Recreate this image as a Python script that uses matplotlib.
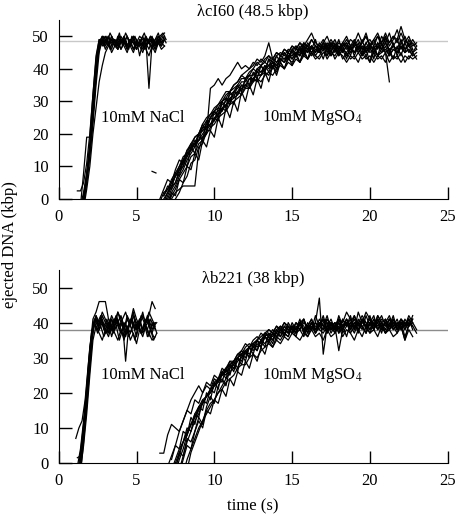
import numpy as np
import matplotlib
matplotlib.use("Agg")
import matplotlib.pyplot as plt

nan = np.nan

# sampling step of the recorded traces (s)
NACL_DT = 0.2
MG_DT = 0.25

# ---- lambda cI60 (48.5 kbp), 10mM NaCl ----
CI60_NACL_START = [1.4, 1.2, 1.4, 1.6, 1.6, 1.5, 1.6, 1.4, 1.5, 1.6]
CI60_NACL = [
    [-4, 1, 7, 15, 26, 38, 47, 49, 48, 50, 47, 49, 46, 48, 50, 47, 49, 48, 46, 49, 47, 50, 48, 49, 47, 50, 48, 49],
    [2.5, 2.5, 5, 11, 20, 32, 44, 49, 47, 49, 48, 46, 49, 47, 50, 48, 46, 48, 50, 47, 48, 46, 49, 48, 50, 47, 49, 48, 50],
    [-2, 8, 19, 19, 32, 43, 49, 48, 50, 48, 49, 47, 50, 48, 49, 46, 48, 50, 49, 47, 48, 50, 48, 47, 49, 51, 48],
    [-3, 3, 10, 20, 28, 36, 41, 45, 47, 49, 47, 48, 46, 48, 47, 49, 46, 48, 47, 45, 48, 46, 49, 47, 48, 47, 49],
    [0, 7, 16, 27, 39, 47, 49, 47, 50, 48, 49, 47, 48, 50, 47, 49, 48, 46, 48, 47, 49, 34, 48, 46, 49, 47, 49],
    [-3, 3, 10, 19, 31, 43, 48, 50, 48, 51, 49, 47, 50, 48, 51, 49, 48, 50, 47, 49, 51, 48, 50, 49, 47, 50, 51, 49],
    [-1, 5, 13, 23, 35, 45, 49, 46, 48, 45, 47, 46, 49, 47, 45, 48, 46, 49, 44, 48, 46, 44, 47, 45, 48, 46, 47],
    [-2, 2, 8, 17, 28, 40, 48, 50, 49, 47, 50, 48, 46, 49, 48, 50, 47, 49, 46, 48, 50, 47, 49, 48, 46, 48, 50, 51],
    [-2, 4, 11, 21, 33, 45, 49, 47, 50, 46, 49, 48, 51, 47, 49, 46, 50, 48, 47, 49, 46, 48, 50, 47, 49, 48, 50, 48],
    [-2, 5, 14, 25, 38, 48, 50, 48, 47, 50, 48, 49, 46, 48, 50, 47, 45, 48, 50, 49, 47, 48, 46, 49, 50, 48, 47],
]

# ---- lambda cI60 (48.5 kbp), 10mM MgSO4 ----
CI60_MG_START = [6.75, 6.5, 7.0, 7.0, 7.25, 6.0, 7.25, 6.75, 6.75, 7.0, 6.75, 7.0, 6.5]
CI60_MG = [
    [-2, 1, 4, 5, 9, 10, 14, 15, 18, 18, 22, 22, 25, 24, 28, 27, 31, 30, 33, 32, 35, 34, 37, 36, 39, 38, 41, 39, 42, 40, 43, 42, 45, 43, 45, 44, 47, 45, 47, 45, 48, 46, 47, 44, 46, 45, 48, 46, 47, 44, 47, 45, 48, 46, 47, 44, 46, 48, 45, 47, 46, 49, 46, 48, 45, 47],
    [-1, 2, 3, 6, 8, 10, 13, 14, 17, 19, 20, 23, 25, 26, 28, 29, 31, 33, 33, 35, 36, 38, 37, 39, 40, 42, 41, 43, 44, 42, 44, 45, 44, 46, 45, 47, 46, 48, 47, 49, 47, 46, 48, 47, 49, 47, 46, 48, 47, 49, 48, 46, 48, 50, 47, 48, 50, 47, 49, 48, 50, 48, 51, 48, 50, 47, 48],
    [-2, 1, 3, 6, 8, 10, 13, 14, 17, 18, 20, 22, 23, 25, 26, 27, 29, 30, 31, 32, 34, 34, 36, 37, 36, 38, 39, 38, 40, 41, 40, 42, 41, 43, 42, 44, 43, 45, 44, 43, 45, 44, 46, 43, 45, 44, 42, 44, 43, 45, 43, 44, 42, 45, 43, 44, 42, 45, 43, 44, 42, 44, 43, 45, 43],
    [0, 3, 5, 8, 10, 13, 15, 17, 18, 19, 20, 34, 35, 37, 35, 37, 38, 40, 42, 40, 41, 40, 42, 41, 43, 42, 44, 43, 45, 44, 46, 45, 47, 46, 48, 46, 47, 45, 47, 46, 48, 45, 47, 46, 44, 46, 45, 47, 45, 46, 44, 47, 45, 46, 44, 45, 47, 44, 46, 45, 47, 45, 46, 44, 45],
    [0, 2, 3, 4, 4, 4, 4, 15, 19, 21, 23, 25, 26, 28, 29, 31, 32, 33, 35, 35, 37, 37, 39, 39, 40, 41, 42, 41, 43, 42, 44, 44, 45, 44, 46, 45, 47, 46, 45, 47, 46, 48, 46, 47, 45, 47, 46, 48, 46, 47, 45, 47, 46, 48, 46, 45, 36],
    [8.5, 8, nan, 1, 3, 5, 7, 9, 12, 13, 16, 17, 20, 21, 23, 25, 27, 28, 30, 31, 33, 34, 35, 37, 37, 38, 40, 39, 41, 42, 41, 43, 42, 44, 43, 45, 44, 46, 45, 47, 46, 45, 47, 46, 48, 46, 47, 45, 47, 46, 48, 45, 47, 49, 46, 48, 49, 47, 50, 48, 51, 48, 50, 49, 53, 49, 47, 48, 46],
    [-3, 0, 2, 5, 7, 11, 12, 16, 17, 21, 21, 25, 24, 28, 27, 31, 29, 33, 32, 35, 34, 37, 36, 38, 39, 38, 41, 39, 42, 40, 43, 42, 44, 42, 45, 43, 45, 43, 44, 46, 43, 45, 44, 46, 43, 45, 43, 44, 42, 45, 43, 44, 42, 44, 43, 45, 42, 44, 43, 45, 42, 44, 43, 44],
    [-1, 2, 5, 7, 10, 12, 15, 16, 19, 20, 22, 24, 26, 27, 29, 30, 32, 33, 35, 36, 38, 39, 40, 41, 43, 42, 44, 48, 43, 45, 44, 46, 45, 47, 46, 48, 47, 49, 51, 48, 47, 49, 47, 48, 46, 48, 47, 49, 47, 48, 51, 48, 50, 47, 49, 51, 48, 50, 47, 49, 52, 48, 50, 47, 49, 47],
    [0, 2, 4, 7, 9, 11, 14, 15, 17, 20, 21, 22, 25, 26, 27, 29, 30, 32, 33, 34, 36, 36, 38, 38, 40, 39, 41, 40, 42, 41, 43, 43, 44, 45, 44, 46, 45, 46, 44, 46, 45, 47, 46, 44, 46, 45, 47, 44, 46, 45, 47, 46, 44, 46, 45, 47, 45, 46, 44, 46, 45, 47, 45, 46, 44],
    [-1, 2, 4, 7, 9, 12, 14, 16, 18, 20, 22, 23, 24, 26, 27, 29, 30, 31, 32, 34, 35, 35, 37, 38, 38, 40, 41, 40, 42, 43, 42, 44, 43, 45, 46, 44, 46, 47, 45, 47, 46, 48, 46, 47, 45, 47, 48, 46, 47, 45, 47, 46, 48, 45, 47, 46, 48, 46, 47, 45, 48, 46, 47, 45, 46],
    [1, 4, 3, 8, 7, 12, 10, 16, 14, 20, 18, 24, 22, 27, 25, 30, 28, 33, 31, 35, 33, 37, 35, 39, 37, 41, 39, 43, 40, 44, 42, 45, 43, 46, 44, 47, 45, 48, 46, 49, 45, 47, 44, 48, 46, 49, 45, 47, 44, 48, 46, 49, 45, 47, 43, 48, 46, 50, 45, 48, 44, 47, 45, 49, 46],
    [-3, 2, 1, 6, 5, 10, 9, 14, 12, 18, 16, 21, 19, 25, 22, 28, 25, 30, 27, 33, 30, 35, 32, 37, 34, 39, 36, 41, 38, 42, 40, 44, 41, 45, 42, 46, 43, 47, 44, 46, 43, 47, 45, 48, 44, 46, 43, 47, 45, 48, 44, 46, 42, 47, 44, 48, 45, 46, 43, 47, 44, 48, 45, 46],
    [0, 3, 6, 5, 9, 12, 11, 15, 17, 16, 20, 23, 21, 25, 27, 26, 30, 31, 29, 33, 35, 33, 37, 38, 36, 40, 41, 39, 43, 42, 40, 44, 45, 43, 46, 47, 44, 48, 46, 49, 47, 45, 48, 50, 47, 49, 46, 48, 50, 47, 49, 46, 48, 51, 47, 49, 46, 50, 48, 51, 47, 49, 46, 48],
]

# ---- lambda b221 (38 kbp), 10mM NaCl ----
B221_NACL_START = [1.1, 1.2, 1.3, 1.4, 1.3, 1.2, 1.4, 1.3, 1.2, 1.4]
B221_NACL = [
    [7, 10, 12, 18, 28, 37, 41, 39, 41, 38, 40, 37, 39, 42, 38, 40, 36, 39, 41, 38, 40, 37, 39, 41, 38, 36],
    [-3, 3, 11, 21, 32, 41, 43, 46, 46, 46, 41, 38, 41, 39, 37, 40, 38, 41, 39, 36, 40, 38, 41, 39, 37, 40],
    [-2, 6, 15, 26, 36, 40, 38, 41, 39, 37, 40, 38, 41, 39, 40, 29, 39, 41, 38, 40, 37, 39, 42, 38, 40, 37],
    [0, 8, 18, 29, 38, 41, 38, 40, 37, 39, 41, 38, 40, 42, 39, 37, 40, 43, 39, 41, 38, 40, 42, 46, 44],
    [-4, 3, 12, 23, 34, 40, 37, 39, 36, 38, 41, 37, 39, 35, 38, 40, 36, 38, 35, 39, 37, 40, 36, 38, 35, 37],
    [1.5, 2, 9, 19, 30, 39, 42, 40, 43, 41, 39, 42, 40, 43, 41, 38, 42, 40, 44, 41, 39, 42, 40, 43, 41, 39],
    [-2, 5, 14, 25, 35, 39, 37, 35, 38, 36, 39, 37, 35, 38, 36, 39, 35, 37, 34, 38, 36, 39, 37, 35, 36],
    [-3, 4, 13, 24, 35, 41, 40, 42, 39, 41, 38, 40, 42, 39, 41, 43, 40, 38, 41, 39, 42, 40, 38, 41, 39, 40],
    [-1, 4, 12, 22, 33, 39, 41, 38, 42, 40, 37, 41, 39, 43, 40, 38, 41, 39, 42, 38, 40, 43, 39, 41, 38, 40],
    [-3, 6, 16, 27, 37, 42, 39, 41, 38, 40, 36, 39, 41, 38, 35, 39, 37, 40, 38, 41, 37, 39, 36, 40, 38],
]

# ---- lambda b221 (38 kbp), 10mM MgSO4 ----
B221_MG_START = [6.5, 7.0, 7.5, 7.75, 8.0, 7.25, 7.5, 7.25, 8.25, 7.25, 7.75, 7.5]
B221_MG = [
    [2.8, 2.8, 8, 11, 10, 9, 12, 15, 14, 18, 17, 20, 22, 21, 24, 23, 26, 25, 28, 27, 30, 29, 32, 31, 33, 32, 35, 34, 36, 35, 37, 36, 38, 37, 39, 38, 40, 37, 39, 38, 40, 38, 37, 39, 41, 38, 40, 37, 39, 41, 38, 40, 39, 37, 40, 38, 41, 39, 40, 38, 41, 39, 40, 38, 41],
    [-1, 2, 5, 9, 12, 15, 18, 20, 22, 20, 23, 22, 25, 24, 27, 26, 29, 28, 30, 31, 30, 33, 32, 34, 33, 36, 35, 37, 36, 38, 37, 39, 38, 37, 40, 38, 39, 41, 38, 40, 39, 37, 40, 38, 41, 39, 40, 38, 42, 39, 41, 38, 40, 39, 41, 38, 40, 42, 39, 41, 38, 40, 39, 41],
    [-3, 1, 4, 8, 11, 13, 16, 18, 19, 21, 23, 24, 25, 27, 28, 29, 30, 32, 31, 33, 34, 33, 35, 36, 35, 37, 36, 38, 37, 36, 39, 37, 38, 36, 39, 38, 40, 47, 31, 39, 38, 40, 37, 39, 41, 38, 40, 38, 39, 37, 40, 38, 41, 39, 37, 40, 38, 39, 41, 38, 40, 39, 37],
    [-2, 2, 6, 9, 12, 14, 17, 19, 20, 22, 24, 25, 27, 28, 29, 31, 31, 33, 34, 33, 35, 36, 37, 36, 38, 37, 39, 38, 37, 39, 38, 40, 39, 37, 40, 38, 39, 41, 38, 40, 39, 32, 38, 40, 39, 41, 38, 40, 43, 41, 39, 42, 40, 38, 41, 39, 40, 38, 41, 39, 40, 38],
    [-3, 1, 4, 7, 10, 12, 14, 16, 18, 20, 21, 23, 24, 25, 27, 28, 28, 30, 31, 30, 32, 33, 34, 33, 35, 34, 36, 35, 37, 36, 35, 37, 36, 38, 36, 37, 35, 38, 36, 37, 39, 36, 38, 37, 35, 38, 36, 39, 37, 38, 36, 39, 37, 38, 36, 37, 39, 35, 38, 36],
    [-2, 1, 4, 6, 9, 11, 14, 16, 17, 19, 21, 22, 24, 26, 27, 29, 29, 31, 32, 34, 33, 35, 36, 35, 37, 38, 37, 39, 38, 40, 39, 38, 40, 39, 41, 38, 40, 39, 38, 40, 41, 39, 40, 38, 41, 39, 40, 42, 39, 41, 40, 38, 41, 40, 42, 39, 41, 40, 38, 41, 39, 42, 40],
    [-1, 2, 6, 10, 9, 14, 13, 18, 17, 21, 20, 24, 23, 27, 25, 29, 27, 31, 29, 33, 31, 35, 33, 36, 34, 37, 35, 38, 36, 39, 37, 40, 38, 41, 37, 40, 38, 41, 39, 42, 38, 40, 37, 41, 39, 42, 38, 43, 40, 39, 41, 38, 42, 40, 39, 41, 38, 40, 39, 35, 40],
    [-4, 0, 3, 6, 8, 11, 13, 15, 17, 19, 20, 22, 23, 25, 26, 27, 29, 30, 31, 32, 33, 34, 35, 34, 36, 37, 36, 38, 37, 39, 38, 37, 39, 38, 40, 39, 38, 40, 39, 41, 40, 38, 39, 41, 40, 43, 41, 39, 40, 42, 40, 38, 40, 39, 41, 40, 38, 40, 39, 41, 40, 39, 42],
    [-2, 3, 6, 9, 12, 15, 17, 18, 20, 22, 24, 26, 27, 29, 30, 32, 33, 34, 35, 37, 36, 38, 37, 39, 38, 40, 38, 39, 37, 40, 38, 39, 41, 37, 39, 38, 40, 37, 39, 41, 38, 40, 37, 39, 38, 41, 39, 37, 40, 38, 40, 41, 38, 39, 37, 40, 39, 41],
    [1, 5, 4, 9, 8, 13, 11, 16, 15, 20, 18, 23, 21, 26, 24, 28, 26, 30, 28, 32, 30, 34, 32, 35, 33, 37, 35, 38, 36, 39, 37, 40, 38, 41, 37, 40, 38, 42, 39, 41, 37, 40, 38, 42, 39, 41, 38, 40, 37, 41, 39, 42, 38, 40, 37, 41, 39, 42, 38, 40, 39, 41, 38],
    [-3, 1, 5, 4, 9, 13, 11, 16, 19, 17, 22, 24, 22, 27, 28, 26, 31, 32, 30, 34, 35, 33, 37, 36, 34, 38, 39, 36, 40, 38, 36, 40, 41, 38, 40, 37, 39, 42, 38, 40, 37, 41, 39, 36, 40, 38, 41, 39, 37, 40, 42, 38, 40, 37, 39, 41, 38, 40, 36, 39, 41],
    [-2, 3, 2, 7, 6, 9, 12, 10, 15, 14, 18, 17, 21, 19, 24, 22, 26, 25, 29, 27, 31, 29, 33, 31, 35, 33, 36, 35, 37, 36, 39, 37, 40, 38, 36, 39, 37, 40, 38, 41, 39, 37, 40, 38, 41, 39, 37, 40, 38, 42, 39, 41, 38, 40, 37, 39, 41, 38, 40, 39, 41, 39],
]

PANEL_TITLES = ["\u03bbcI60 (48.5 kbp)", "\u03bbb221 (38 kbp)"]
GENOME_LENGTH = [48.5, 38]
LINE_COLORS = ["#c8c8c8", "#8c8c8c"]
X_TICKS = [0, 5, 10, 15, 20, 25]
Y_TICKS = [0, 10, 20, 30, 40, 50]

plt.rcParams['font.family'] = ['Liberation Serif', 'DejaVu Serif']
plt.rcParams['mathtext.fontset'] = 'stix'
plt.rcParams['font.size'] = 12


def plot_traces(ax, starts, traces, dt):
    for t0, values in zip(starts, traces):
        t = t0 + dt * np.arange(len(values))
        ax.plot(t, values, color='black', linewidth=0.9, zorder=2)


def style_axis(ax):
    ax.spines['right'].set_visible(False)
    ax.spines['top'].set_visible(False)
    ax.set_xlim(0, 25)
    ax.set_ylim(0, 55)
    ax.set_xticks(X_TICKS)
    ax.set_yticks(Y_TICKS)
    ax.tick_params(direction='in', length=9, width=1, pad=7, labelsize=12)


fig = plt.figure(figsize=(4.6, 5.18), dpi=100)
ax_top = fig.add_axes([0.1276, 0.6158, 0.8457, 0.3456])
ax_bot = fig.add_axes([0.1276, 0.1062, 0.8457, 0.3726])

panels = [
    (ax_top, CI60_NACL_START, CI60_NACL, CI60_MG_START, CI60_MG),
    (ax_bot, B221_NACL_START, B221_NACL, B221_MG_START, B221_MG),
]
for k, (ax, na_start, na, mg_start, mg) in enumerate(panels):
    ax.axhline(GENOME_LENGTH[k], color=LINE_COLORS[k], linewidth=1.0, zorder=1)
    plot_traces(ax, na_start, na, NACL_DT)
    plot_traces(ax, mg_start, mg, MG_DT)
    style_axis(ax)
    ax.text(2.7, 25, "10mM NaCl", ha='left', va='center', fontsize=12)
    ax.text(13.05, 25, "10mM MgSO$_4$", ha='left', va='center', fontsize=12)

ax_top.text(0.5, 1.045, PANEL_TITLES[0], transform=ax_top.transAxes,
            ha='center', va='center', fontsize=12)
ax_bot.text(0.5, 0.953, PANEL_TITLES[1], transform=ax_bot.transAxes,
            ha='center', va='center', fontsize=12)

fig.text(0.022, 0.527, "ejected DNA (kbp)", rotation=90, ha='center', va='center', fontsize=12)
fig.text(0.55, 0.022, "time (s)", ha='center', va='center', fontsize=12)

fig.savefig("out.png", dpi=100)
